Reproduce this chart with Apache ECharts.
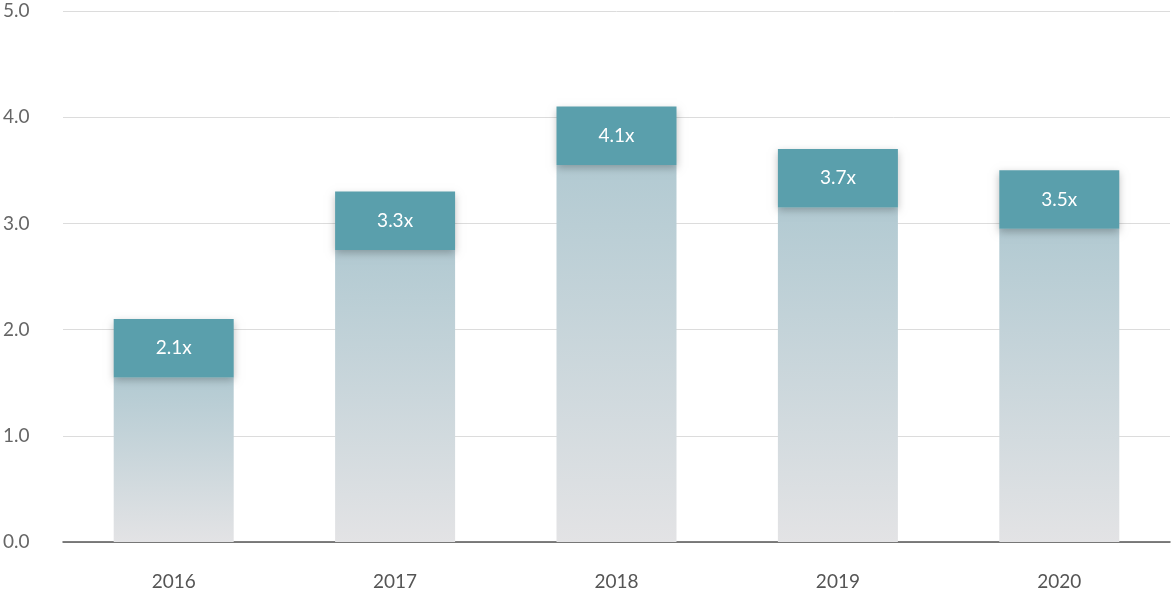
<!DOCTYPE html>
<html><head><meta charset="utf-8">
<script src="https://cdn.jsdelivr.net/npm/echarts@6/dist/echarts.min.js"></script>
<style>html,body{margin:0;padding:0;background:#fff}#c{width:1175px;height:600px}</style>
</head><body><div id="c"></div>
<script>
const categories = ['2016','2017','2018','2019','2020'];
const values = [2.1, 3.3, 4.1, 3.7, 3.5];
const yTicks = [0,1,2,3,4,5];
const capHeight = 0.55;
const chart = echarts.init(document.getElementById('c'));
chart.setOption({
  animation:false,
  grid:{left:60,right:5,top:11,bottom:58},
  xAxis:{type:'category',data:categories,
    axisLine:{lineStyle:{color:'#555',width:1.5}},axisTick:{show:false},
    axisLabel:{color:'#555',fontFamily:'Lato',fontSize:19,margin:30}},
  yAxis:{type:'value',min:0,max:5,interval:1,
    axisLabel:{color:'#666',fontFamily:'Lato',fontSize:19,align:'left',margin:60,formatter:v=>v.toFixed(1)},
    splitLine:{lineStyle:{color:'#dcdcdc'}}},
  series:[
    {type:'bar',stack:'s',barWidth:120,data:values.map(v=>v-capHeight),
     itemStyle:{color:new echarts.graphic.LinearGradient(0,0,0,1,[{offset:0,color:'#b2cad2'},{offset:1,color:'#e3e3e5'}])}},
    {type:'bar',stack:'s',barWidth:120,data:values.map(()=>capHeight),
     itemStyle:{color:'#5a9fac',shadowColor:'rgba(0,0,0,0.25)',shadowBlur:8,shadowOffsetY:3},
     label:{show:true,position:'inside',color:'#fff',fontFamily:'Lato',fontSize:19,
       formatter:p=>values[p.dataIndex].toFixed(1)+'x'}}
  ]
});
</script></body></html>
